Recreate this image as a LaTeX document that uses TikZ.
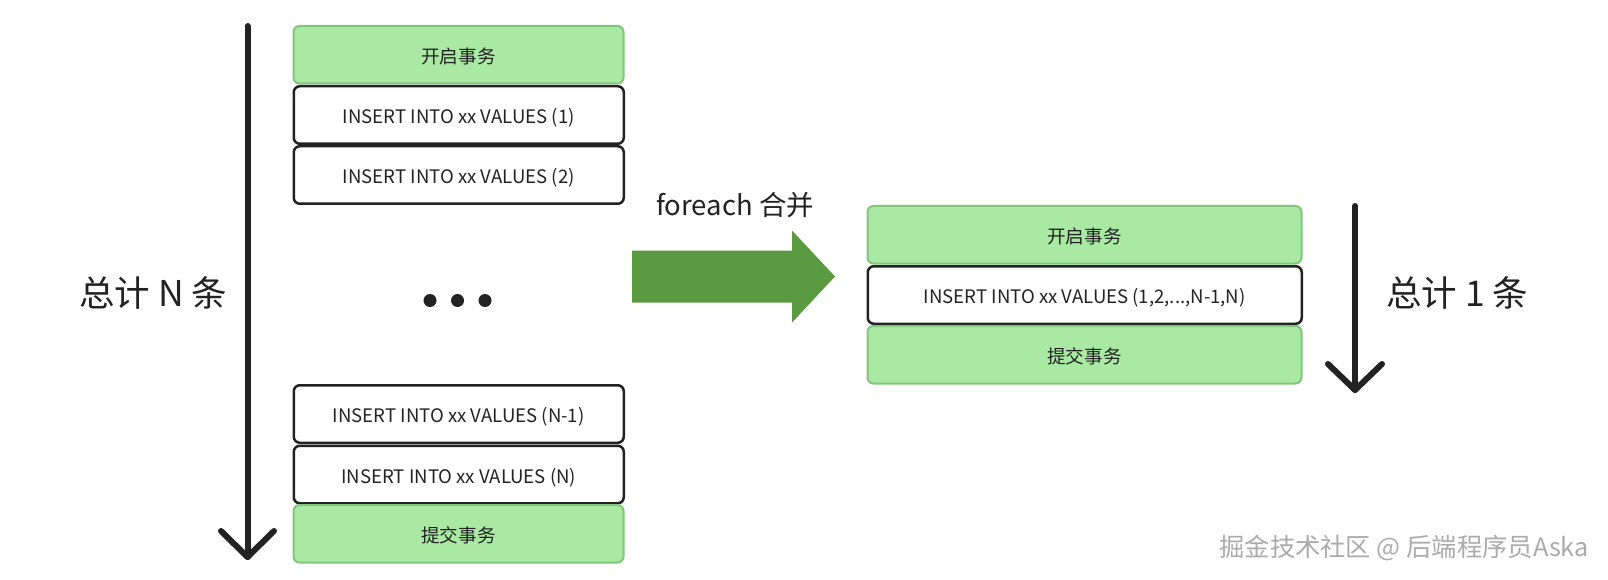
\documentclass[tikz,border=0pt]{standalone}
\usepackage{fontspec}
\setmainfont{Noto Sans CJK SC}
\definecolor{gfill}{HTML}{A9E9A3}
\definecolor{gline}{HTML}{80C77C}
\definecolor{bigarrow}{HTML}{5A9A41}
\definecolor{ink}{HTML}{222222}
\definecolor{wm}{HTML}{ABABAB}
\begin{document}
\begin{tikzpicture}[x=1pt,y=-1pt,
  gbox/.style={draw=gline, fill=gfill, line width=2pt, rounded corners=6pt,
    minimum height=57.5pt, anchor=north west, inner sep=0pt,
    text height=17.5pt, text depth=0pt,
    font=\fontsize{18.6}{20}\selectfont, text=ink},
  wbox/.style={gbox, draw=ink, fill=white, line width=2.5pt},
  lbox/.style={minimum width=330pt},
  rbox/.style={minimum width=434pt},
  vline/.style={draw=ink, line width=6pt, line cap=round, line join=round},
  big/.style={font=\fontsize{35.5}{40}\selectfont, text=ink, anchor=west, inner sep=0pt}]
\useasboundingbox[fill=white] (0,0) rectangle (1608,580);

% left stack
\node[gbox,lbox] (l1) at (292.5,25) {开启事务};
\node[wbox,lbox] (l2) at (292.5,85) {INSERT INTO xx VALUES (1)};
\node[wbox,lbox] (l3) at (292.5,145) {INSERT INTO xx VALUES (2)};
\node[wbox,lbox] (l4) at (292.5,384) {INSERT INTO xx VALUES (N-1)};
\node[wbox,lbox] (l5) at (292.5,444.5) {INSERT INTO xx VALUES (N)};
\node[gbox,lbox] (l6) at (292.5,504) {提交事务};

% dots
\fill[ink] (430,300.5) circle (6.5) (457.5,300.5) circle (6.5) (485,300.5) circle (6.5);

% left arrow
\coordinate (la1) at (247.5,26);
\coordinate (la2) at (247.5,557);
\coordinate (lw1) at (221,531);
\coordinate (lw2) at (274,531);
\draw[vline] (la1) -- (la2);
\draw[vline] (lw1) -- (la2) -- (lw2);
\node[big] (ltxt) at (79,292.5) {总计 N 条};

% big green arrow
\fill[bigarrow] (632,250.5) -- (792,250.5) -- (792,230.5) -- (835,276.5) -- (792,322.5) -- (792,302.5) -- (632,302.5) -- cycle;
\node[font=\fontsize{27.5}{30}\selectfont, text=ink, anchor=west, inner sep=0pt] (fe) at (656,205) {foreach 合并};

% right stack
\node[gbox,rbox] (r1) at (866.5,205) {开启事务};
\node[wbox,rbox] (r2) at (866.5,265) {INSERT INTO xx VALUES (1,2,...,N-1,N)};
\node[gbox,rbox] (r3) at (866.5,325) {提交事务};

% right arrow
\coordinate (ra1) at (1355,206);
\coordinate (ra2) at (1355,390);
\coordinate (rw1) at (1328,364);
\coordinate (rw2) at (1382,364);
\draw[vline] (ra1) -- (ra2);
\draw[vline] (rw1) -- (ra2) -- (rw2);
\node[big] (rtxt) at (1386,293) {总计 1 条};

% watermark
\node[font=\fontsize{25.3}{30}\selectfont, text=wm, anchor=east, inner sep=0pt] (wmk) at (1589,548) {掘金技术社区 @ 后端程序员Aska};
\end{tikzpicture}
\end{document}
